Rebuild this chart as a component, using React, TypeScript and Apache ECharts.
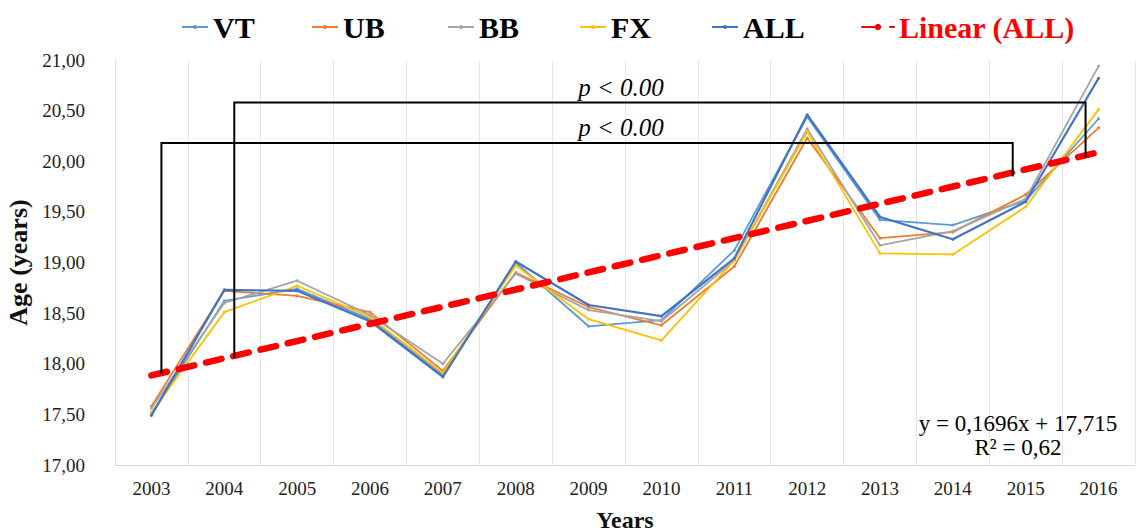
import React, { useEffect, useRef } from "react";
import * as echarts from "echarts";

const years = ["2003", "2004", "2005", "2006", "2007", "2008", "2009", "2010", "2011", "2012", "2013", "2014", "2015", "2016"];
const vtValues = [17.5, 18.62, 18.74, 18.44, 17.89, 19.0, 18.37, 18.43, 19.12, 20.44, 19.42, 19.37, 19.61, 20.42];
const ubValues = [17.58, 18.72, 18.67, 18.51, 17.93, 18.9, 18.56, 18.38, 18.96, 20.23, 19.24, 19.3, 19.67, 20.33];
const bbValues = [17.56, 18.6, 18.82, 18.48, 18.0, 18.89, 18.53, 18.42, 19.02, 20.32, 19.17, 19.31, 19.63, 20.94];
const fxValues = [17.52, 18.51, 18.77, 18.46, 17.91, 18.97, 18.44, 18.23, 19.02, 20.29, 19.09, 19.08, 19.55, 20.51];
const allValues = [17.49, 18.73, 18.72, 18.42, 17.87, 19.01, 18.58, 18.47, 19.04, 20.46, 19.45, 19.23, 19.6, 20.82];
const trendEnds = [17.885, 20.089];

const seriesNames = ["VT", "UB", "BB", "FX", "ALL"];
const trendName = "Linear (ALL)";
const yMin = 17;
const yMax = 21;
const yInterval = 0.5;

const bracketSpans = [
  [0, 12],
  [1, 13],
];
const bracketTops = [20.18, 20.58];
const bracketLeftEnds = [17.9, 18.06];
const bracketRightEnds = [19.85, 20.04];
const pLabel = "p < 0.00";
const equationText = "y = 0,1696x + 17,715\nR² = 0,62";

const colors = ["#5B9BD5", "#ED7D31", "#A5A5A5", "#FFC000", "#4472C4"];
const serif = "'Liberation Serif', 'Times New Roman', serif";

export default function App() {
  const ref = useRef<HTMLDivElement>(null);

  useEffect(() => {
    if (!ref.current) return;
    const chart = echarts.init(ref.current, undefined, { renderer: "svg" });
    const dataSets = [vtValues, ubValues, bbValues, fxValues, allValues];
    const legendLefts = [176, 306, 442, 574, 706, 856];

    const lineSeries = seriesNames.map((name, i) => ({
      name,
      type: "line",
      data: dataSets[i],
      symbol: "circle",
      symbolSize: 3,
      showSymbol: true,
      itemStyle: { color: colors[i] },
      lineStyle: { color: colors[i], width: i === 4 ? 2.2 : 1.8 },
      z: 2 + i,
    }));

    const legendNames = [...seriesNames, trendName];

    chart.setOption({
      animation: false,
      grid: { left: 115, right: 1, top: 60, bottom: 67, containLabel: false, outerBoundsMode: "none" },
      legend: legendNames.map((name, i) => ({
        data: [name],
        left: legendLefts[i],
        top: 7,
        itemWidth: name === trendName ? 32 : 26,
        itemHeight: name === trendName ? 8 : 5,
        itemGap: 0,
        textStyle: {
          fontFamily: serif,
          fontWeight: "bold",
          fontSize: 30,
          color: name === trendName ? "#FF0000" : "#000",
        },
      })),
      xAxis: {
        type: "category",
        data: years,
        boundaryGap: true,
        axisLine: { show: true, lineStyle: { color: "#D9D9D9", width: 1 } },
        axisTick: { show: false },
        splitLine: { show: true, lineStyle: { color: "#E6E6E6", width: 1 } },
        axisLabel: { fontFamily: serif, fontSize: 19, color: "#222", margin: 14 },
        name: "Years",
        nameLocation: "middle",
        nameGap: 43,
        nameTextStyle: { fontFamily: serif, fontWeight: "bold", fontSize: 24, color: "#111" },
      },
      yAxis: {
        type: "value",
        min: yMin,
        max: yMax,
        interval: yInterval,
        axisLine: { show: true, lineStyle: { color: "#E6E6E6", width: 1 } },
        axisTick: { show: false },
        splitLine: { show: false },
        axisLabel: {
          fontFamily: serif,
          fontSize: 19,
          color: "#222",
          margin: 30,
          formatter: (v: number) => v.toFixed(2).replace(".", ","),
        },
        name: "Age (years)",
        nameLocation: "middle",
        nameRotate: 90,
        nameGap: 77,
        nameTextStyle: { fontFamily: serif, fontWeight: "bold", fontSize: 26, color: "#111" },
      },
      series: [
        ...lineSeries,
        {
          name: trendName,
          type: "line",
          data: [
            [0, trendEnds[0]],
            [years.length - 1, trendEnds[1]],
          ],
          symbol: "none",
          itemStyle: { color: "#FF0000" },
          lineStyle: { color: "#FF0000", width: 6.5, type: [16, 12], cap: "round" },
          z: 10,
        },
      ],
    });

    const px = (xi: number, v: number) =>
      chart.convertToPixel({ xAxisIndex: 0, yAxisIndex: 0 }, [xi, v]) as number[];

    const graphics: any[] = [];
    bracketSpans.forEach((span, i) => {
      const leftBottom = px(span[0], bracketLeftEnds[i]);
      const rightBottom = px(span[1], bracketRightEnds[i]);
      const top = px(span[0], bracketTops[i]);
      const x1 = leftBottom[0] + 10;
      const x2 = rightBottom[0] - 13;
      graphics.push({
        type: "polyline",
        z: 20,
        shape: {
          points: [
            [x1, leftBottom[1]],
            [x1, top[1]],
            [x2, top[1]],
            [x2, rightBottom[1]],
          ],
        },
        style: { stroke: "#000", lineWidth: 2, fill: null },
      });
      const a = px(6, bracketTops[i]);
      const b = px(7, bracketTops[i]);
      graphics.push({
        type: "text",
        z: 20,
        x: (a[0] + b[0]) / 2 - 4,
        y: top[1] - 3,
        style: {
          text: pLabel,
          fontFamily: serif,
          fontStyle: "italic",
          fontSize: 25,
          fill: "#000",
          align: "center",
          verticalAlign: "bottom",
        },
      });
    });

    graphics.push({
      type: "text",
      z: 20,
      x: 1018,
      y: 435,
      style: {
        text: equationText,
        fontFamily: serif,
        fontSize: 23,
        lineHeight: 24,
        fill: "#000",
        align: "center",
        verticalAlign: "middle",
      },
    });

    chart.setOption({ graphic: graphics });

    return () => chart.dispose();
  }, []);

  return (
    <div
      ref={ref}
      style={{ position: "fixed", left: 0, top: 0, width: 1136, height: 532, background: "#fff" }}
    />
  );
}
